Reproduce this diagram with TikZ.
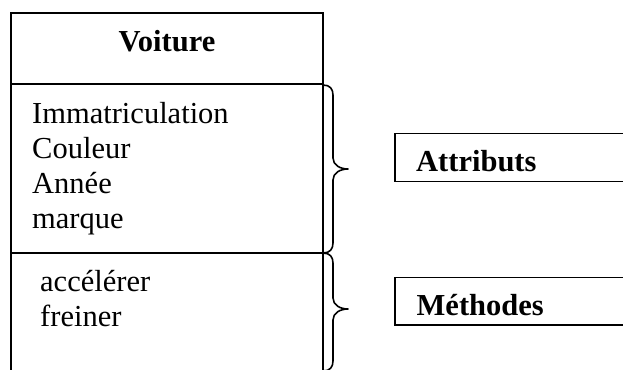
\documentclass[tikz,border=0pt]{standalone}
\usepackage{fontspec}
\setmainfont{Liberation Serif}
\begin{document}
\begin{tikzpicture}[x=1pt,y=-1pt,
  frame/.style={line width=2.2pt, line cap=rect},
  tagframe/.style={line width=1.6pt},
  bracket/.style={line width=1.6pt, line join=round},
  txt/.style={inner sep=0pt, anchor=base west, font=\fontsize{30.5}{35}\selectfont},
  bold/.style={inner sep=0pt, font=\fontsize{30.5}{35}\selectfont\bfseries}
]
\useasboundingbox (0,0) rectangle (623,369);
\clip (0,0) rectangle (623,369);

% class box corners and compartment separators
\coordinate (tl) at (11,13);
\coordinate (tr) at (323,13);
\coordinate (bl) at (11,400);
\coordinate (br) at (323,400);
\coordinate (s1l) at (11,84);
\coordinate (s1r) at (323,84);
\coordinate (s2l) at (11,253);
\coordinate (s2r) at (323,253);

\draw[frame] (bl) -- (tl) -- (tr) -- (br);
\draw[frame] (s1l) -- (s1r);
\draw[frame] (s2l) -- (s2r);

% class name
\node[bold, anchor=base] (name) at (167,51.7) {Voiture};

% attributes
\node[txt] (a1) at (32,123.3) {Immatriculation};
\node[txt] (a2) at (32,158.3) {Couleur};
\node[txt] (a3) at (32,193.3) {Année};
\node[txt] (a4) at (32,228.3) {marque};

% methods
\node[txt] (m1) at (40,291.7) {accélérer};
\node[txt] (m2) at (40,326.7) {freiner};

% braces grouping the compartments
\draw[bracket] (323,85) .. controls (330,85) and (333,89) .. (333,95)
  -- (333,158) .. controls (333,165) and (340,169) .. (348,169)
  .. controls (340,169) and (333,173) .. (333,180)
  -- (333,243) .. controls (333,249) and (330,253) .. (323,253);
\draw[bracket] (323,253) .. controls (330,253) and (333,257) .. (333,263)
  -- (333,298) .. controls (333,305) and (340,309) .. (348,309)
  .. controls (340,309) and (333,313) .. (333,320)
  -- (333,361) .. controls (333,367) and (330,371) .. (323,371);

% labels
\draw[tagframe] (395,133.5) rectangle (650,181.5);
\node[bold, anchor=base west] (attr) at (416,171.7) {Attributs};
\draw[tagframe] (395,277.5) rectangle (650,325);
\node[bold, anchor=base west] (meth) at (416.5,315) {Méthodes};
\end{tikzpicture}
\end{document}
